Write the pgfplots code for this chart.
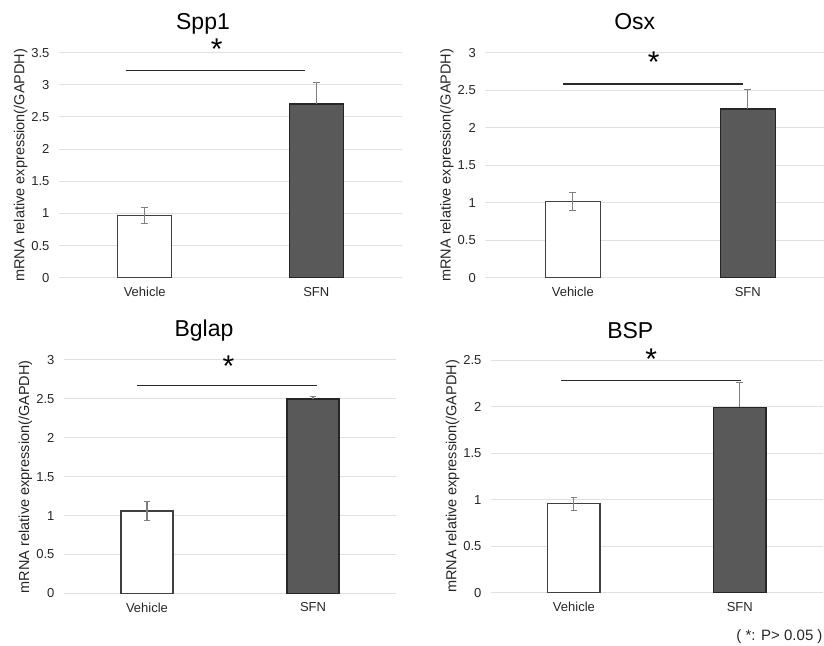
\documentclass[border=0pt]{standalone}
\usepackage{fontspec}
\setmainfont{Liberation Sans}
\usepackage{pgfplots}
\pgfplotsset{compat=1.18}

\definecolor{gridc}{HTML}{E0E0E0}
\definecolor{edgew}{HTML}{404040}
\definecolor{darkbar}{HTML}{595959}
\definecolor{edgek}{HTML}{262626}
\definecolor{errc}{HTML}{7F7F7F}
\definecolor{sigc}{HTML}{2A2A2A}

\pgfplotsset{
  panel/.style={
    scale only axis, anchor=south west,
    xmin=0.5, xmax=2.5, ymin=0,
    xtick={1,2}, xticklabels={Vehicle,SFN},
    ymajorgrids, grid style={draw=gridc, line width=1pt},
    axis line style={draw=none},
    major tick length=0pt, tick style={draw=none},
    ticklabel style={font=\fontsize{13}{15}\selectfont, text=black!85},
    yticklabel style={xshift=-6pt},
    xticklabel style={yshift=-6pt},
    /pgf/number format/assume math mode=true,
    ylabel={mRNA relative expression(/GAPDH)},
    ylabel style={font=\fontsize{14.5}{16}\selectfont, anchor=center, text=black!85},
    bar width=0.315,
    clip=false,
  },
  vehbar/.style={ybar, bar shift=0pt, fill=white, draw=edgew, line width=1.3pt,
    error bars/.cd, y dir=both, y explicit,
    error bar style={draw=errc, line width=1.1pt},
    error mark options={rotate=90, mark size=3.3pt, draw=errc, line width=1.1pt}},
  sfnbar/.style={ybar, bar shift=0pt, fill=darkbar, draw=edgek, line width=1.3pt,
    error bars/.cd, y dir=plus, y explicit,
    error bar style={draw=errc, line width=1.1pt},
    error mark options={rotate=90, mark size=3.3pt, draw=errc, line width=1.1pt}},
  sig/.style={draw=sigc, line width=1.4pt, mark=none},
}
\newcommand{\startext}{\fontsize{30}{32}\selectfont *}
\newcommand{\ttl}{\fontsize{23}{26}\selectfont}

\begin{document}
\begin{tikzpicture}
\path[use as bounding box] (0pt,0pt) rectangle (824pt,645pt);

% Spp1
\begin{axis}[panel, at={(59pt,367.3pt)}, width=343pt, height=225pt,
  ymax=3.5, ytick={0,0.5,...,3.5},
  ylabel style={at={(axis description cs:-0.1122,0.5)}}]
\addplot[vehbar] coordinates {(1,0.97) +- (0,0.12)};
\addplot[sfnbar] coordinates {(2,2.70) +- (0,0.34)};
\addplot[sig] coordinates {(0.889,3.22) (1.936,3.22)};
\node[yshift=-6pt] at (axis cs:1.42,3.65) {\startext};
\end{axis}

% Osx
\begin{axis}[panel, at={(485.3pt,367.3pt)}, width=338.4pt, height=225pt,
  xmax=2.434, ymax=3, ytick={0,0.5,...,3},
  ylabel style={at={(axis description cs:-0.1138,0.5)}}]
\addplot[vehbar] coordinates {(1,1.02) +- (0,0.12)};
\addplot[sfnbar] coordinates {(2,2.25) +- (0,0.26)};
\addplot[sig] coordinates {(0.944,2.58) (1.971,2.58)};
\node[yshift=-6pt] at (axis cs:1.462,2.95) {\startext};
\end{axis}

% Bglap
\begin{axis}[panel, at={(64pt,51.7pt)}, width=332pt, height=233.3pt,
  ymax=3, ytick={0,0.5,...,3},
  ylabel style={at={(axis description cs:-0.116,0.5)}}]
\addplot[vehbar] coordinates {(1,1.06) +- (0,0.12)};
\addplot[sfnbar] coordinates {(2,2.50) +- (0,0.035)};
\addplot[sig] coordinates {(0.942,2.67) (2.026,2.67)};
\node[yshift=-6pt] at (axis cs:1.49,3.0) {\startext};
\end{axis}

% BSP
\begin{axis}[panel, at={(491pt,52.3pt)}, width=331.7pt, height=232.7pt,
  ymax=2.5, ytick={0,0.5,...,2.5},
  ylabel style={at={(axis description cs:-0.116,0.5)}}]
\addplot[vehbar] coordinates {(1,0.955) +- (0,0.07)};
\addplot[sfnbar] coordinates {(2,1.99) +- (0,0.27)};
\addplot[sig] coordinates {(0.922,2.28) (2.006,2.28)};
\node[yshift=-6pt] at (axis cs:1.466,2.57) {\startext};
\end{axis}

\node[anchor=base] at (203pt,615.7pt) {\ttl Spp1};
\node[anchor=base] at (634.7pt,615pt) {\ttl Osx};
\node[anchor=base] at (204pt,308.3pt) {\ttl Bglap};
\node[anchor=base] at (630.3pt,306.7pt) {\ttl BSP};
\node[anchor=base east, inner sep=0pt, text=black!85] at (822.7pt,5pt)
  {\fontsize{15}{17}\selectfont ( *: P> 0.05 )};
\end{tikzpicture}
\end{document}
